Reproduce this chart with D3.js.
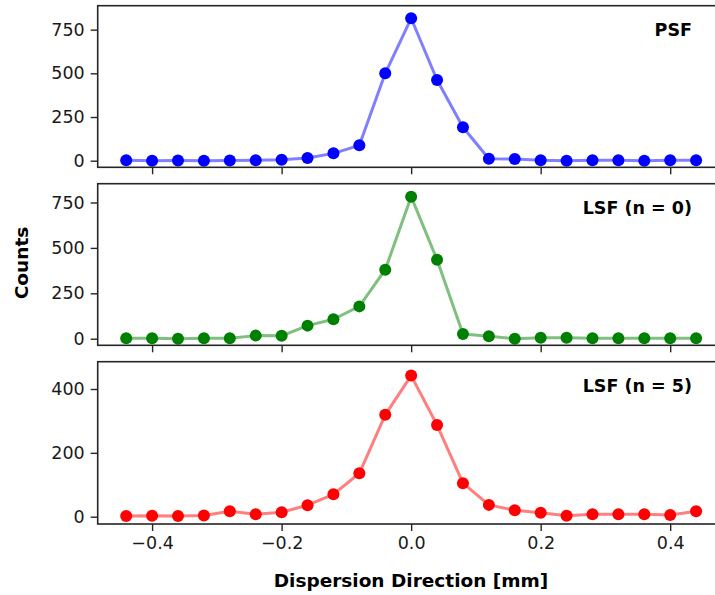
<!DOCTYPE html>
<html>
<head>
<meta charset="utf-8">
<script src="https://cdn.jsdelivr.net/npm/d3@7"></script>
<style>
    html, body { margin: 0; padding: 0; background: #ffffff; }
    #chart { width: 715px; height: 595px; position: relative; overflow: hidden; }
    text { font-family: 'DejaVu Sans', sans-serif; }
</style>
</head>
<body>
<div id="chart"></div>
<script>
// positions along the dispersion direction [mm]
const positions = [
    -0.44, -0.40, -0.36, -0.32, -0.28, -0.24, -0.20, -0.16, -0.12, -0.08, -0.04, 0.0,
    0.04, 0.08, 0.12, 0.16, 0.20, 0.24, 0.28, 0.32, 0.36, 0.40, 0.44,
];
const psfCounts = [2, 0, 1, 0, 1, 3, 6, 15, 42, 88, 500, 815, 462, 191, 11, 10, 3, 0, 2, 2, 0, 2, 2];
const lsf0Counts = [2, 2, 0, 2, 2, 17, 16, 72, 107, 178, 380, 782, 435, 26, 13, 0, 5, 5, 3, 2, 3, 3, 3];
const lsf5Counts = [2, 3, 2, 4, 17, 8, 14, 36, 70, 136, 319, 442, 287, 105, 37, 20, 12, 3, 8, 8, 8, 5, 17];

const panelLabels = ['PSF', 'LSF (n = 0)', 'LSF (n = 5)'];
const xTicks = [-0.4, -0.2, 0.0, 0.2, 0.4];
const yTicks = [[0, 250, 500, 750], [0, 250, 500, 750], [0, 200, 400]];
const xTitle = 'Dispersion Direction [mm]';
const yTitle = 'Counts';

class CreateStackedProfiles {
    constructor({ target, panels, setting }) {
        this.setting = setting;
        this.panels = panels;
        this.svg = d3.select(`#${target}`)
            .append('svg')
            .attr('width', setting.width)
            .attr('height', setting.height);
        this.xScale = d3.scaleLinear()
            .domain(setting.xDomain)
            .range([setting.left, setting.right]);
        this.panels.forEach((p, i) => this.drawPanel(p, i));
        this.drawTitles();
    }

    drawPanel(panel, i) {
        const { setting } = this;
        const [top, bottom] = setting.panelRows[i];
        const y = d3.scaleLinear().domain(panel.yDomain).range([bottom, top]);
        const g = this.svg.append('g');
        const pts = positions.map((x, k) => ({ x, v: panel.values[k] }));

        const line = d3.line().x((d) => this.xScale(d.x)).y((d) => y(d.v));
        g.append('path')
            .attr('d', line(pts))
            .attr('fill', 'none')
            .attr('stroke', panel.color)
            .attr('stroke-opacity', 0.5)
            .attr('stroke-width', 3)
            .attr('stroke-linejoin', 'round');
        g.selectAll('circle')
            .data(pts)
            .join('circle')
            .attr('cx', (d) => this.xScale(d.x))
            .attr('cy', (d) => y(d.v))
            .attr('r', 6)
            .attr('fill', panel.color);

        // frame
        g.append('rect')
            .attr('x', setting.left)
            .attr('y', top)
            .attr('width', setting.right - setting.left)
            .attr('height', bottom - top)
            .attr('fill', 'none')
            .attr('stroke', '#262626')
            .attr('stroke-width', 1.6);

        const yAxis = g.append('g')
            .attr('transform', `translate(${setting.left},0)`)
            .call(d3.axisLeft(y).tickValues(yTicks[i]).tickSize(7).tickPadding(6).tickFormat(d3.format('d')));
        yAxis.select('.domain').remove();
        this.styleAxis(yAxis);

        const xAxis = g.append('g')
            .attr('transform', `translate(0,${bottom})`)
            .call(d3.axisBottom(this.xScale).tickValues(xTicks).tickSize(7).tickPadding(6)
                .tickFormat(i === 2 ? (d) => d3.format('.1f')(d).replace('-', '\u2212') : ''));
        xAxis.select('.domain').remove();
        this.styleAxis(xAxis);

        g.append('text')
            .attr('x', setting.labelRight)
            .attr('y', top + 30)
            .attr('text-anchor', 'end')
            .attr('font-weight', 'bold')
            .attr('font-size', 17.5)
            .attr('fill', '#000')
            .text(panel.label);
    }

    styleAxis(axis) {
        axis.selectAll('line').attr('stroke', '#262626').attr('stroke-width', 1.4);
        axis.selectAll('text')
            .attr('font-size', 17.5)
            .attr('fill', '#1a1a1a')
            .attr('font-family', "'DejaVu Sans', sans-serif");
    }

    drawTitles() {
        const { setting } = this;
        this.svg.append('text')
            .attr('x', 411)
            .attr('y', 587)
            .attr('text-anchor', 'middle')
            .attr('font-weight', 'bold')
            .attr('font-size', 18.5)
            .text(xTitle);
        this.svg.append('text')
            .attr('transform', `translate(28,263) rotate(-90)`)
            .attr('text-anchor', 'middle')
            .attr('font-weight', 'bold')
            .attr('font-size', 18.5)
            .text(yTitle);
    }
}

new CreateStackedProfiles({
    target: 'chart',
    panels: [
        { values: psfCounts, color: '#0000ff', label: panelLabels[0], yDomain: [-37.8, 887] },
        { values: lsf0Counts, color: '#008000', label: panelLabels[1], yDomain: [-36.3, 853.5] },
        { values: lsf5Counts, color: '#ff0000', label: panelLabels[2], yDomain: [-22.9, 485.5] },
    ],
    setting: {
        width: 715,
        height: 595,
        left: 97.7,
        right: 724.6,
        labelRight: 692,
        xDomain: [-0.484, 0.484],
        panelRows: [[5.7, 167.3], [183.7, 345.3], [361.7, 524]],
    },
});
</script>
</body>
</html>
